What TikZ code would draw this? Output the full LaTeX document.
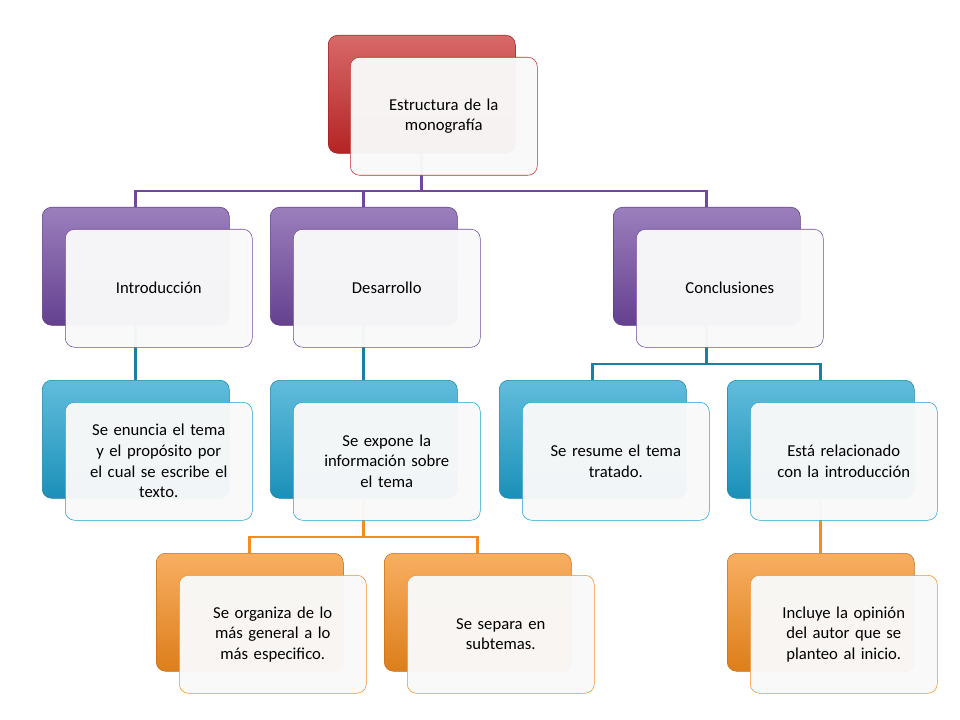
\documentclass[tikz,border=0pt]{standalone}
\usepackage{fontspec}
\setmainfont{Carlito}
\usetikzlibrary{backgrounds}
\definecolor{mred}{RGB}{200,40,40}
\definecolor{mpurple}{RGB}{112,72,160}
\definecolor{mblue}{RGB}{30,160,205}
\definecolor{morange}{RGB}{245,140,30}
\tikzset{
  back/.style={draw=#1!80!black, rounded corners=7pt, top color=#1!70!white, bottom color=#1!90!black,
    minimum width=187*0.75pt, minimum height=118*0.75pt, anchor=north west, inner sep=0pt},
  front/.style={draw=#1, rounded corners=7pt, fill=gray!5, fill opacity=0.97, text opacity=1,
    minimum width=187*0.75pt, minimum height=118*0.75pt, anchor=north west, align=center,
    text width=150*0.75pt, font=\fontsize{12.5}{15.5}\selectfont},
  link/.style={line width=2pt, draw=#1}
}
\begin{document}
\begin{tikzpicture}[x=0.75pt, y=-0.75pt]
    \useasboundingbox (0,0) rectangle (960,720);
    % Root
    \node[back=mred] (rootb) at (328,35) {};
    \node[front=mred] (root) at (350,57) {Estructura de la\\monografía};
    % Level 2
    \node[back=mpurple] (introb) at (42,207) {};
    \node[front=mpurple] (intro) at (65,229) {Introducción};
    \node[back=mpurple] (desb) at (270,207) {};
    \node[front=mpurple] (des) at (293,229) {Desarrollo};
    \node[back=mpurple] (conb) at (613,207) {};
    \node[front=mpurple] (con) at (636,229) {Conclusiones};
    % Level 3
    \node[back=mblue] (ib) at (42,380) {};
    \node[front=mblue, text width=172*0.75pt] (i) at (65,402)
        {Se enuncia el tema\\y el propósito por\\el cual se escribe el\\texto.};
    \node[back=mblue] (db) at (270,380) {};
    \node[front=mblue] (d) at (293,402) {Se expone la\\información sobre\\el tema};
    \node[back=mblue] (cab) at (499,380) {};
    \node[front=mblue] (ca) at (522,402) {Se resume el tema\\tratado.};
    \node[back=mblue] (cbb) at (727,380) {};
    \node[front=mblue] (cb) at (750,402) {Está relacionado\\con la introducción};
    % Level 4
    \node[back=morange] (dab) at (156,553) {};
    \node[front=morange] (da) at (179,575) {Se organiza de lo\\más general a lo\\más especifico.};
    \node[back=morange] (dbb) at (384,553) {};
    \node[front=morange] (dbx) at (407,575) {Se separa en\\subtemas.};
    \node[back=morange] (ccb) at (727,553) {};
    \node[front=morange] (cc) at (750,575) {Incluye la opinión\\del autor que se\\planteo al inicio.};
    % Connectors
    \begin{pgfonlayer}{background}
        \foreach \c in {introb,desb,conb}
            \draw[link=mpurple] (rootb.center) |- ([yshift=12pt]\c.north) -- (\c.north);
        \draw[link=mblue!80!black] (introb.center) -- (ib.north);
        \draw[link=mblue!80!black] (desb.center) -- (db.north);
        \foreach \c in {cab,cbb}
            \draw[link=mblue!80!black] (conb.center) |- ([yshift=12pt]\c.north) -- (\c.north);
        \foreach \c in {dab,dbb}
            \draw[link=morange] (db.center) |- ([yshift=12pt]\c.north) -- (\c.north);
        \draw[link=morange] (cbb.center) -- (ccb.north);
    \end{pgfonlayer}
\end{tikzpicture}
\end{document}
